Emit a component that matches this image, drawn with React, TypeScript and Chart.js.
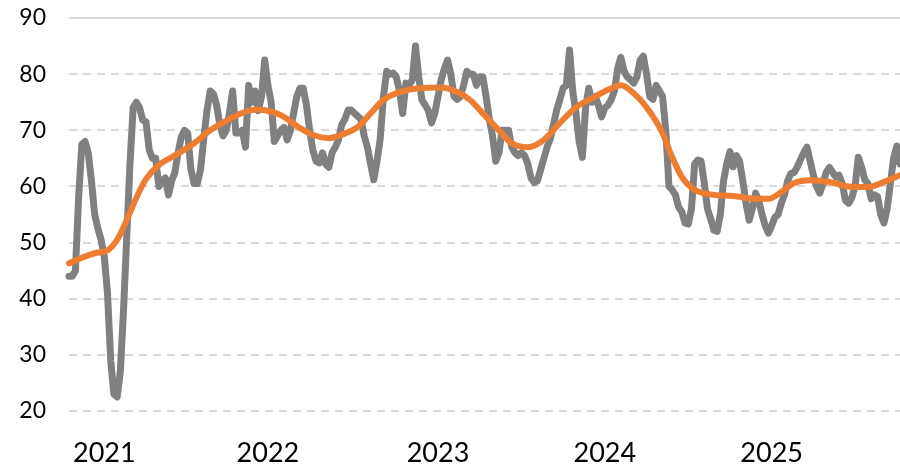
import React, { useEffect, useRef } from 'react';
import { Chart, registerables } from 'chart.js';

Chart.register(...registerables);

// Year tick labels and the week index where each label sits
const yearLabels = ['2021', '2022', '2023', '2024', '2025'];
const yearTickWeeks = [11, 62, 115, 167, 219];

// Y axis range / ticks
const yMin = 20;
const yMax = 90;
const yStep = 10;

// Weekly series (gray), one value per week
const weeklyValues = [
  44, 44, 45, 58, 67.5, 68, 66, 61, 55, 52.5,
  50.5, 47.5, 41, 29, 23, 22.5, 27, 38, 51, 64,
  74, 75, 74, 71.8, 71.5, 66.5, 65, 65, 60, 61,
  61.5, 58.5, 61, 62.5, 66, 68.8, 70, 69.5, 63, 60.5,
  60.5, 63, 68.5, 73.5, 77, 76.5, 74.5, 71, 69, 70,
  73, 77, 69.5, 69.5, 70, 67, 78, 75, 77, 73.5,
  76, 82.5, 78, 75, 68, 69, 70, 70.5, 68.3, 70,
  73, 76, 77.5, 77.5, 74.5, 70, 66.5, 64.5, 64.2, 66,
  64, 63.4, 66, 67, 68.3, 71, 72, 73.6, 73.6, 73,
  72.5, 72, 69, 67, 64, 61.2, 64.5, 68.5, 76, 80.5,
  80, 80.2, 79.5, 77, 73, 78.4, 78, 79, 85, 79.5,
  75.4, 74.5, 73.5, 71.3, 73, 76, 79, 81, 82.5, 80,
  76, 75.5, 76, 78, 80.5, 80, 80, 78, 79.5, 79.5,
  76, 72, 69, 64.5, 66, 70, 70, 70, 67, 66,
  65.5, 66, 65.5, 64, 61.5, 60.7, 61, 63, 65, 67,
  68.5, 71, 73.6, 75.5, 77.5, 78, 84.3, 77, 73, 68,
  65.2, 74, 77.5, 75, 76, 74.5, 72.4, 74, 74.5, 75.5,
  77, 81, 83, 80.5, 79.5, 79, 78.4, 79.5, 82.5, 83.2,
  80, 76, 75.5, 78, 77, 76, 70, 60, 59.4, 58.5,
  56.3, 55.5, 53.5, 53.3, 56, 64, 64.7, 64.5, 60.6, 56,
  54.2, 52.2, 52, 55, 61, 64, 66.2, 63.5, 65.5, 64.5,
  61, 57, 54, 56, 58.8, 57.5, 55, 53, 51.7, 53,
  54.5, 55, 57, 58.5, 61, 62.3, 62.5, 63.5, 64.8, 66,
  67, 64.5, 62, 60, 58.8, 60.5, 62.5, 63.4, 62.5, 61.7,
  62, 60.5, 57.5, 57, 58, 60, 65.2, 63.5, 61.2, 60.5,
  57.8, 58.5, 58.2, 55, 53.5, 56, 60.5, 65, 67.2, 64,
];

// Smoothed trend series (orange), sampled at these weeks
const trendWeeks = [
  0, 4, 8, 12, 15, 18, 21, 24, 28, 32, 39, 44, 50, 55, 59, 63, 66, 72, 76, 81,
  85, 90, 94, 98, 103, 109, 116, 121, 125, 129, 134, 138, 143, 148, 153, 158,
  164, 168, 172, 176, 180, 185, 188, 191, 195, 201, 207, 214, 218, 222, 226,
  231, 237, 243, 249, 254, 259,
];
const trendValues = [
  46.3, 47.3, 48.1, 48.6, 50.5, 54, 58, 61.3, 63.8, 65.2, 67.7, 70, 72, 73.3,
  73.7, 73.3, 72.7, 70.4, 69.2, 68.6, 69.2, 70.6, 73, 75.4, 76.8, 77.5, 77.6,
  76.8, 75.4, 73, 70, 67.7, 67, 68.3, 71.3, 74.1, 76, 77.2, 78, 76.6, 74.1,
  69.5, 65.2, 61.7, 59.4, 58.5, 58.3, 57.8, 57.8, 59, 60.6, 61.1, 60.8, 60,
  59.9, 60.8, 62,
];

const GRAY = '#808080';
const ORANGE = '#ED7D31';
const GRID = '#d9d9d9';
const FONT = 'Lato, "Open Sans", sans-serif';

const topLinePlugin = {
  id: 'topLine',
  beforeDatasetsDraw(chart: any) {
    const { ctx, chartArea, scales } = chart;
    const y = scales.y.getPixelForValue(yMax);
    ctx.save();
    ctx.strokeStyle = GRID;
    ctx.lineWidth = 2;
    ctx.beginPath();
    ctx.moveTo(chartArea.left, y);
    ctx.lineTo(chartArea.right, y);
    ctx.stroke();
    ctx.restore();
  },
};

export default function App() {
  const canvasRef = useRef<HTMLCanvasElement | null>(null);

  useEffect(() => {
    document.body.style.margin = '0';
    const canvas = canvasRef.current;
    if (!canvas) return;

    const chart = new Chart(canvas, {
      type: 'line',
      data: {
        datasets: [
          {
            label: 'Trend',
            data: trendWeeks.map((w, i) => ({ x: w, y: trendValues[i] })),
            borderColor: ORANGE,
            borderWidth: 6,
            pointRadius: 0,
            cubicInterpolationMode: 'monotone',
            borderJoinStyle: 'round',
            borderCapStyle: 'round',
            clip: false,
          },
          {
            label: 'Weekly',
            data: weeklyValues.map((v, i) => ({ x: i, y: v })),
            borderColor: GRAY,
            borderWidth: 7,
            pointRadius: 0,
            tension: 0,
            borderJoinStyle: 'round',
            borderCapStyle: 'round',
            clip: false,
          },
        ],
      },
      options: {
        animation: false,
        responsive: false,
        maintainAspectRatio: false,
        layout: { autoPadding: false, padding: { top: 18, right: 0, left: 0, bottom: 0 } },
        plugins: {
          legend: { display: false },
          tooltip: { enabled: false },
        },
        scales: {
          x: {
            type: 'linear',
            min: 0,
            max: weeklyValues.length - 1,
            grid: { display: false, drawTicks: false },
            border: { display: false },
            afterBuildTicks: (scale: any) => {
              scale.ticks = yearTickWeeks.map((v) => ({ value: v }));
            },
            afterFit: (scale: any) => {
              scale.height = 56;
              scale.paddingLeft = 0;
              scale.paddingRight = 0;
            },
            ticks: {
              autoSkip: false,
              maxRotation: 0,
              padding: 26,
              color: '#000',
              font: { family: FONT, size: 27 },
              callback: (value: any) => {
                const idx = yearTickWeeks.indexOf(Number(value));
                return idx >= 0 ? yearLabels[idx] : '';
              },
            },
          },
          y: {
            min: yMin,
            max: yMax,
            afterFit: (scale: any) => {
              scale.width = 69;
              scale.paddingTop = 0;
              scale.paddingBottom = 0;
            },
            grid: { color: GRID, lineWidth: 2, drawTicks: false },
            border: { display: false, dash: [8, 6] },
            ticks: {
              stepSize: yStep,
              padding: 23,
              color: '#000',
              font: { family: FONT, size: 23 },
            },
          },
        },
      },
      plugins: [topLinePlugin],
    });

    return () => chart.destroy();
  }, []);

  return (
    <div style={{ width: 900, height: 467 }}>
      <canvas ref={canvasRef} width={900} height={467} style={{ display: 'block' }} />
    </div>
  );
}
